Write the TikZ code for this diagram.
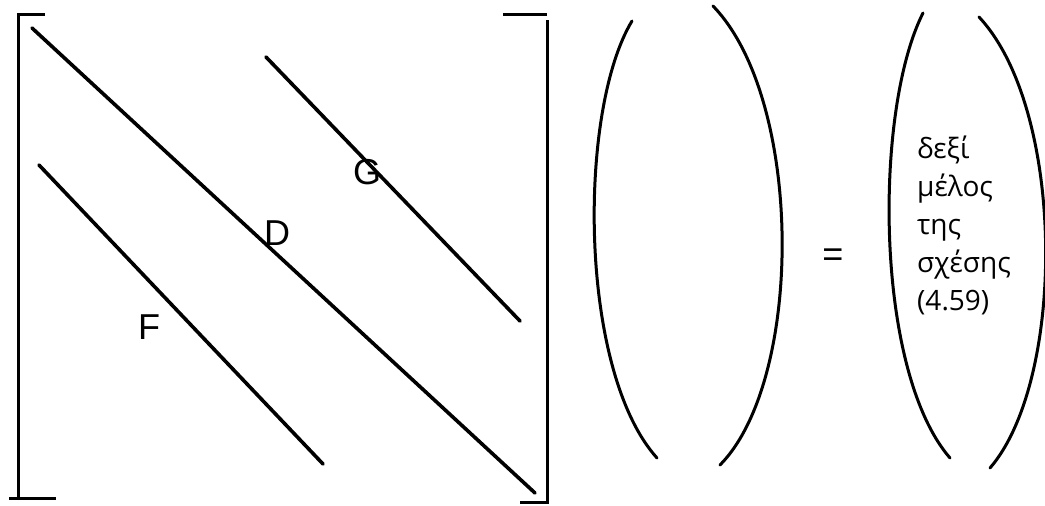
\documentclass[tikz,border=0pt]{standalone}
\usepackage{fontspec}
\setmainfont{Liberation Sans}
\newfontfamily\greekfont{Open Sans}
\usetikzlibrary{calc}

\begin{document}
\begin{tikzpicture}[x=1pt, y=-1pt]
    \tikzstyle{band} = [line width=3.6pt, draw=black, line cap=round]
    \tikzstyle{brack} = [line width=3.0pt, draw=black]
    \tikzstyle{paren} = [line width=3.0pt, draw=black, line cap=round]
    \tikzstyle{lbl} = [inner sep=0pt, font=\fontsize{36}{36}\selectfont]

    \useasboundingbox (0,0) rectangle (1045,506);
    \fill[white] (0,0) rectangle (1045,506);

    % matrix brackets
    \draw [brack] (45,14) -- (18,14) -- (18,498);
    \draw [brack] (9,498) -- (56,498);
    \draw [brack] (503,14) -- (547,14);
    \draw [brack] (547,20) -- (547,502) -- (520,502);

    % diagonal bands
    \coordinate (d1) at (32,28);   \coordinate (d2) at (535,493);
    \coordinate (f1) at (39,165);  \coordinate (f2) at (323,464);
    \coordinate (g1) at (266,57);  \coordinate (g2) at (520,321);
    \draw [band] (d1) -- (d2);
    \draw [band] (f1) -- (f2);
    \draw [band] (g1) -- (g2);

    \node [lbl] (g) at (367,172) {G};
    \node [lbl] (d) at (277,233) {D};
    \node [lbl] (f) at (149,327) {F};

    % unknown vector
    \draw [paren] (632,21) .. controls (578,110) and (578,370) .. (657,458);
    \draw [paren] (713,6) .. controls (804,100) and (804,380) .. (720,465);

    \node [lbl] (eq) at (833,258) {=};

    % right-hand side
    \draw [paren] (923,13) .. controls (874,110) and (874,370) .. (950,458);
    \draw [paren] (979,17) .. controls (1066,110) and (1066,380) .. (990,468);

    \node [inner sep=0pt, anchor=north west, align=left,
           font=\greekfont\fontsize{28}{38}\selectfont] (rhs) at (917,136)
        {δεξί\\μέλος\\της\\σχέσης\\(4.59)};
\end{tikzpicture}
\end{document}
